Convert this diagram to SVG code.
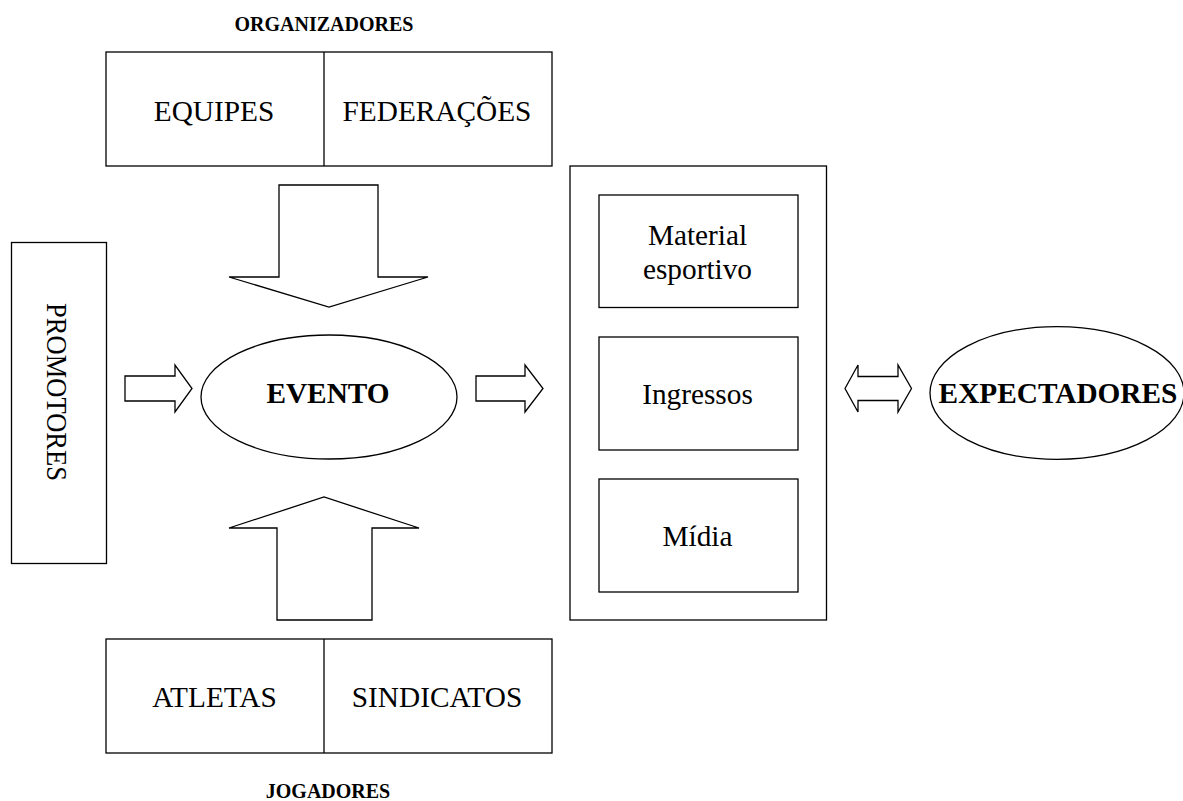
<svg xmlns="http://www.w3.org/2000/svg" width="1183" height="801" viewBox="0 0 1183 801">
<style>
.s{fill:#fff;stroke:#000;stroke-width:1.3}
.t{font-family:"Liberation Serif","Times New Roman",serif;font-size:29.3px;fill:#000;text-anchor:middle}
.b{font-weight:bold}
.h{font-family:"Liberation Serif","Times New Roman",serif;font-size:20px;font-weight:bold;fill:#000;text-anchor:middle}
</style>
<rect width="1183" height="801" fill="#fff"/>
<g id="organizadores">
<text class="h" x="324" y="31">ORGANIZADORES</text>
<rect class="s" x="106" y="52" width="446" height="114"/>
<line class="s" x1="324" y1="52" x2="324" y2="166"/>
<text class="t" x="214" y="121">EQUIPES</text>
<text class="t" x="437" y="121">FEDERAÇÕES</text>
</g>
<g id="jogadores">
<rect class="s" x="106" y="639" width="446" height="114"/>
<line class="s" x1="324" y1="639" x2="324" y2="753"/>
<text class="t" x="214.5" y="707">ATLETAS</text>
<text class="t" x="437" y="707">SINDICATOS</text>
<text class="h" x="328" y="798">JOGADORES</text>
</g>
<g id="promotores">
<rect class="s" x="11.5" y="242.5" width="95" height="321"/>
<text class="t" transform="translate(47,392) rotate(90)" x="0" y="0" textLength="178" lengthAdjust="spacingAndGlyphs">PROMOTORES</text>
</g>
<g id="evento">
<ellipse class="s" cx="329" cy="397" rx="128" ry="62"/>
<text class="t b" x="328" y="403">EVENTO</text>
</g>
<g id="produtos">
<rect class="s" x="570" y="166" width="256.5" height="454"/>
<g id="material">
<rect class="s" x="599" y="195" width="199" height="112.5"/>
<text class="t" x="697.5" y="245">Material</text>
<text class="t" x="697.5" y="279">esportivo</text>
</g>
<g id="ingressos">
<rect class="s" x="599" y="337" width="199" height="113"/>
<text class="t" x="697.5" y="404">Ingressos</text>
</g>
<g id="midia">
<rect class="s" x="599" y="479" width="199" height="113"/>
<text class="t" x="697.5" y="546">Mídia</text>
</g>
</g>
<g id="expectadores">
<ellipse class="s" cx="1057" cy="393" rx="127" ry="66.3"/>
<text class="t b" x="1058" y="403">EXPECTADORES</text>
</g>
<g id="connectors">
<polygon class="s" points="279,185 378,185 378,277 428,277 329,307 229,277 279,277"/>
<polygon class="s" points="277,620 372,620 372,528 419,528 324,497 229,528 277,528"/>
<polygon class="s" points="125,376 175,376 175,365 192,388.5 175,412 175,401 125,401"/>
<polygon class="s" points="476,376 525,376 525,365 543,388.5 525,412 525,401 476,401"/>
<polygon class="s" points="845,388.5 858,365 858,376.5 898,376.5 898,365 911.5,388.5 898,412 898,400.5 858,400.5 858,412"/>
</g>
</svg>
